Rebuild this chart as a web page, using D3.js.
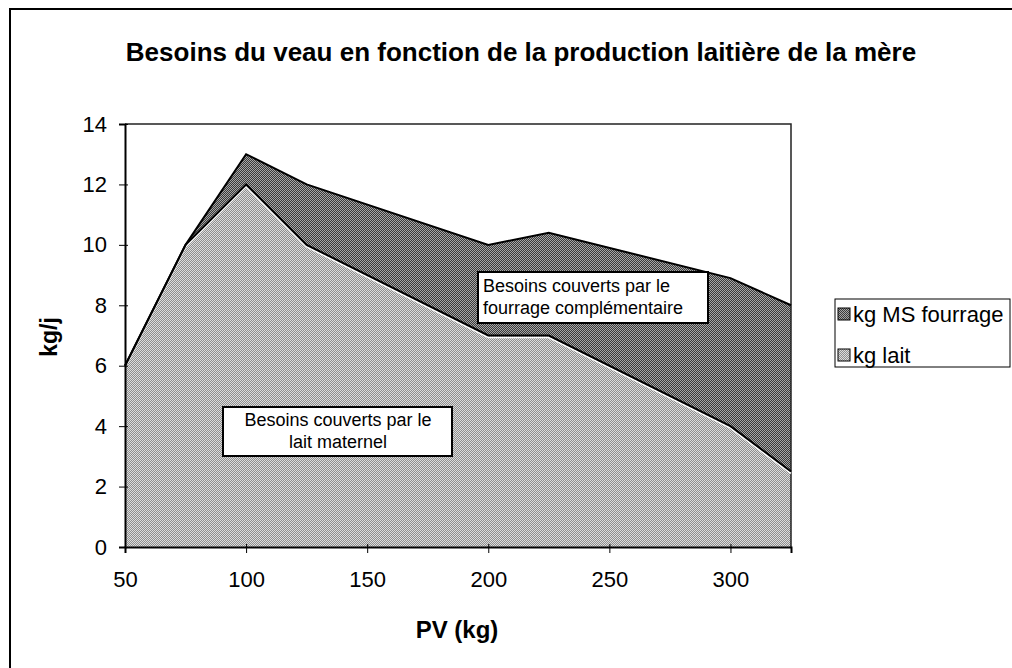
<!DOCTYPE html>
<html>
<head>
<meta charset="UTF-8">
<title>Besoins du veau</title>
<style>
    body { margin: 0; background: #fff; }
    text { font-family: Arial, "Liberation Sans", sans-serif; fill: #000; }
    .tick text { font-size: 22px; }
    .note { font-size: 18px; }
</style>
</head>
<body>
<script src="https://cdn.jsdelivr.net/npm/d3@7"></script>
<script>
    // PV du veau (kg)
    var pv = [50, 75, 100, 125, 200, 225, 300, 325];
    // besoins couverts par le lait (kg/j)
    var kgLait = [6, 10, 12, 10, 7, 7, 4, 2.5];
    // complément en fourrage (kg MS/j), empilé au-dessus du lait
    var kgFourrage = [0, 0, 1, 2, 3, 3.4, 4.9, 5.5];
    var xTicks = [50, 100, 150, 200, 250, 300];
    var yTicks = [0, 2, 4, 6, 8, 10, 12, 14];
    var seriesNames = ["kg MS fourrage", "kg lait"];

    var width = 1012, height = 668;
    var plotL = 125, plotR = 791, plotT = 124, plotB = 547;

    var svg = d3.select("body").append("svg")
        .attr("width", width)
        .attr("height", height);

    // motifs tramés facon impression noir et blanc
    var defs = svg.append("defs");
    function trame(id, a, b) {
        var p = defs.append("pattern")
            .attr("id", id)
            .attr("patternUnits", "userSpaceOnUse")
            .attr("width", 2).attr("height", 2);
        p.append("rect").attr("width", 2).attr("height", 2).attr("fill", a);
        p.append("rect").attr("x", 1).attr("width", 1).attr("height", 1).attr("fill", b);
        p.append("rect").attr("y", 1).attr("width", 1).attr("height", 1).attr("fill", b);
    }
    trame("tLait", "#dcdcdc", "#8e8e8e");
    trame("tFourrage", "#a6a6a6", "#3a3a3a");

    // cadre extérieur
    svg.append("rect")
        .attr("x", 10).attr("y", 9)
        .attr("width", 1010).attr("height", 700)
        .attr("fill", "none").attr("stroke", "#000").attr("stroke-width", 2);

    svg.append("text")
        .attr("x", 521).attr("y", 61)
        .attr("text-anchor", "middle")
        .style("font-size", "26px").style("font-weight", "bold")
        .text("Besoins du veau en fonction de la production laitière de la mère");

    var x = d3.scaleLinear().domain([50, 325]).range([plotL, plotR]);
    var y = d3.scaleLinear().domain([0, 14]).range([plotB, plotT]);

    var rows = pv.map(function (d, i) {
        return {pv: d, lait: kgLait[i], fourrage: kgFourrage[i]};
    });
    var stack = d3.stack().keys(["lait", "fourrage"])(rows);

    var area = d3.area()
        .x(function (d) { return x(d.data.pv); })
        .y0(function (d) { return y(d[0]); })
        .y1(function (d) { return y(d[1]); });
    var topLine = d3.line()
        .x(function (d) { return x(d.data.pv); })
        .y(function (d) { return y(d[1]); });

    var fills = {lait: "url(#tLait)", fourrage: "url(#tFourrage)"};

    svg.selectAll(".area")
        .data(stack).enter()
        .append("path")
        .attr("class", "area")
        .attr("d", area)
        .attr("fill", function (d) { return fills[d.key]; })
        .attr("shape-rendering", "crispEdges");

    // cadre de la zone de tracé
    svg.append("path")
        .attr("d", "M" + plotL + "," + plotT + "H" + plotR + "V" + plotB)
        .attr("fill", "none").attr("stroke", "#222").attr("stroke-width", 1.5);

    // liseré blanc sous la ligne du lait
    svg.append("path")
        .datum(stack[0])
        .attr("d", d3.line()
            .x(function (d) { return x(d.data.pv); })
            .y(function (d) { return y(d[1]) + 2; }))
        .attr("fill", "none").attr("stroke", "#fff").attr("stroke-width", 1.5);

    svg.selectAll(".edge")
        .data(stack).enter()
        .append("path")
        .attr("class", "edge")
        .attr("d", topLine)
        .attr("fill", "none")
        .attr("stroke", "#000")
        .attr("stroke-width", 2);

    var xAxis = svg.append("g")
        .attr("transform", "translate(0," + plotB + ")")
        .call(d3.axisBottom(x).tickValues(xTicks).tickSize(6).tickPadding(18));
    var yAxis = svg.append("g")
        .attr("transform", "translate(" + plotL + ",0)")
        .call(d3.axisLeft(y).tickValues(yTicks).tickSize(6).tickPadding(12));
    [xAxis, yAxis].forEach(function (g) {
        g.select(".domain").attr("stroke", "#000").attr("stroke-width", 2);
        g.selectAll(".tick line").attr("stroke", "#000");
    });
    xAxis.selectAll(".tick line").attr("y1", -3);
    yAxis.selectAll(".tick line").attr("x1", 3);

    svg.append("text")
        .attr("transform", "translate(57,337) rotate(-90)")
        .attr("text-anchor", "middle")
        .style("font-size", "23px").style("font-weight", "bold")
        .text("kg/j");
    svg.append("text")
        .attr("x", 457).attr("y", 638)
        .attr("text-anchor", "middle")
        .style("font-size", "24px").style("font-weight", "bold")
        .text("PV (kg)");

    // annotations
    function note(x0, y0, w, h, lines, anchor, tx, base) {
        svg.append("rect")
            .attr("x", x0).attr("y", y0).attr("width", w).attr("height", h)
            .attr("fill", "#fff").attr("stroke", "#000").attr("stroke-width", 2);
        lines.forEach(function (l, i) {
            svg.append("text")
                .attr("class", "note")
                .attr("x", tx).attr("y", base + i * 22)
                .attr("text-anchor", anchor)
                .text(l);
        });
    }
    note(478, 272, 230, 51, ["Besoins couverts par le", "fourrage complémentaire"], "start", 483, 292);
    note(223, 407, 229, 49, ["Besoins couverts par le", "lait maternel"], "middle", 338, 426);

    // légende
    var lg = svg.append("g").attr("transform", "translate(835,299)");
    lg.append("rect")
        .attr("width", 175).attr("height", 68)
        .attr("fill", "#fff").attr("stroke", "#000").attr("stroke-width", 1);
    var swatch = ["url(#tFourrage)", "url(#tLait)"];
    seriesNames.forEach(function (n, i) {
        var row = lg.append("g").attr("transform", "translate(0," + (15 + i * 41) + ")");
        row.append("rect")
            .attr("x", 3).attr("y", -6).attr("width", 12).attr("height", 12)
            .attr("fill", swatch[i]).attr("stroke", "#000");
        row.append("text")
            .attr("x", 18).attr("y", 0)
            .attr("dy", "0.35em")
            .style("font-size", "22px")
            .text(n);
    });
</script>
</body>
</html>
